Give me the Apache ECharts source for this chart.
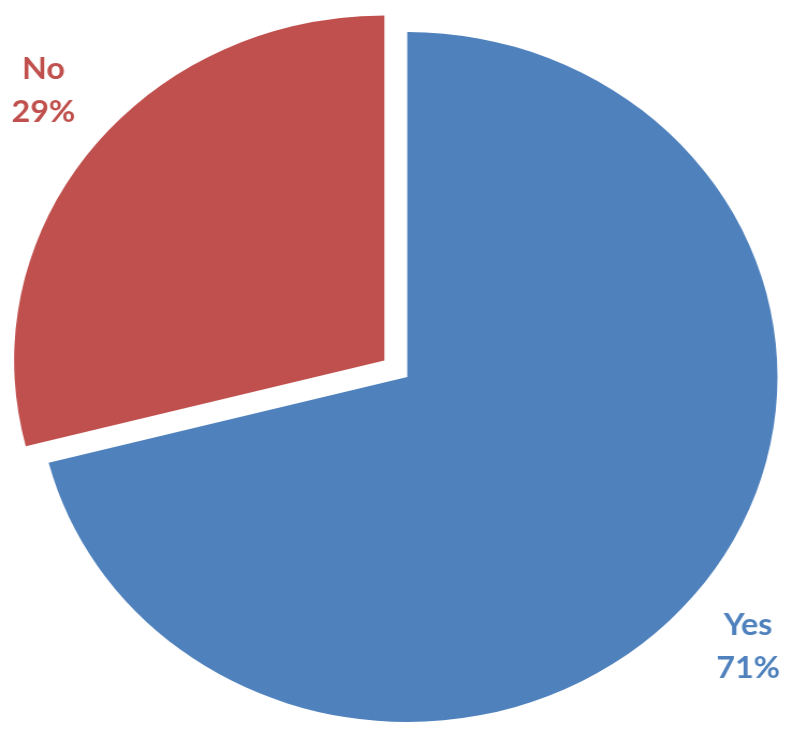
<!DOCTYPE html>
<html><head><meta charset="utf-8">
<script src="https://cdn.jsdelivr.net/npm/echarts@6/dist/echarts.min.js"></script>
<style>html,body{margin:0;padding:0;background:#fff;overflow:hidden}
#wrap{width:793px;height:731px;overflow:hidden}
#chart{width:739px;height:731px;transform:scaleX(1.0731);transform-origin:0 0}</style>
</head><body><div id="wrap"><div id="chart"></div></div>
<script>
const categories = ['Yes', 'No'];
const values = [71, 29];
const explodedCategory = 'No';
const sliceColors = ['#4F81BD', '#C0504D'];

const chart = echarts.init(document.getElementById('chart'), null, {renderer: 'canvas'});
const data = categories.map((c, i) => ({
  name: c,
  value: values[i],
  selected: c === explodedCategory,
  itemStyle: {color: sliceColors[i]},
  label: {color: sliceColors[i]},
  select: {itemStyle: {color: sliceColors[i], borderWidth: 0}, label: {color: sliceColors[i]}}
}));
chart.setOption({
  animation: false,
  series: [{
    type: 'pie',
    center: [379.5, 377],
    radius: 345,
    startAngle: 90,
    clockwise: true,
    selectedMode: 'single',
    selectedOffset: 27,
    avoidLabelOverlap: false,
    label: {show: true, position: 'outside', formatter: '{b}\n{d}%', fontFamily: 'Lato', fontWeight: 'bold', fontSize: 30, lineHeight: 43, distanceToLabelLine: -30},
    labelLine: {show: false, length: 95, length2: 0},
    labelLayout: {align: 'center'},
    emphasis: {disabled: true},
    data: data
  }]
});
</script></body></html>
